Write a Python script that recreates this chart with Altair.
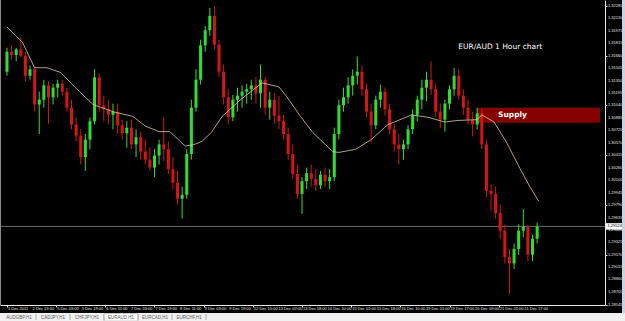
import altair as alt
import pandas as pd

# ---------------- data ----------------
date_labels = ["1 Dec 2011", "2 Dec 13:00", "5 Dec 03:00", "5 Dec 19:00", "6 Dec 11:00",
               "7 Dec 03:00", "7 Dec 19:00", "8 Dec 11:00", "9 Dec 03:00", "9 Dec 19:00",
               "12 Dec 10:00", "13 Dec 02:00", "13 Dec 18:00", "14 Dec 10:00", "15 Dec 02:00",
               "15 Dec 18:00", "16 Dec 10:00", "19 Dec 01:00", "19 Dec 17:00", "20 Dec 09:00",
               "21 Dec 01:00", "21 Dec 17:00"]
date_label_hours = [0, 16, 32, 48, 64, 80, 96, 112, 128, 144, 160, 176, 192, 208, 224,
                    240, 256, 272, 288, 304, 320, 336]

price_ticks = [1.32285, 1.32130, 1.31975, 1.31815, 1.31660, 1.31505, 1.31350, 1.31195,
               1.31040, 1.30885, 1.30725, 1.30570, 1.30415, 1.30260, 1.30100, 1.29945,
               1.29790, 1.29635, 1.29480, 1.29325, 1.29170, 1.29015, 1.28860, 1.28700,
               1.28545]

first_open = 1.3146
highs = [1.3176, 1.3179, 1.3176, 1.3189, 1.3171, 1.3154, 1.3151, 1.3121, 1.3136, 1.3134,
         1.3131, 1.3136, 1.3136, 1.3126, 1.3111, 1.3089, 1.3074, 1.3068, 1.3089, 1.3149,
         1.3144, 1.3116, 1.3111, 1.3106, 1.3106, 1.3086, 1.3084, 1.3086, 1.3074, 1.3071,
         1.3061, 1.3051, 1.3049, 1.3061, 1.3089, 1.3059, 1.3039, 1.3022, 1.3002, 1.3049,
         1.3111, 1.3149, 1.3186, 1.3203, 1.3226, 1.3228, 1.3186, 1.3155, 1.3124, 1.3117,
         1.3126, 1.3129, 1.3131, 1.3136, 1.3139, 1.3155, 1.3139, 1.3121, 1.3119, 1.3116,
         1.3092, 1.3076, 1.3055, 1.3030, 1.3014, 1.3026, 1.3030, 1.3024, 1.3022, 1.3026,
         1.3024, 1.3076, 1.3111, 1.3126, 1.3139, 1.3149, 1.3165, 1.3154, 1.3131, 1.3106,
         1.3116, 1.3130, 1.3126, 1.3106, 1.3081, 1.3068, 1.3061, 1.3079, 1.3099, 1.3116,
         1.3136, 1.3146, 1.3159, 1.3131, 1.3106, 1.3111, 1.3129, 1.3151, 1.3149, 1.3124,
         1.3111, 1.3096, 1.3101, 1.3099, 1.3061, 1.3005, 1.3002, 1.2980, 1.2955, 1.2924,
         1.2931, 1.2955, 1.2974, 1.2954, 1.2942, 1.2957]
lows = [1.3141, 1.3161, 1.3159, 1.3164, 1.3134, 1.3136, 1.3096, 1.3068, 1.3101, 1.3081,
        1.3105, 1.3114, 1.3116, 1.3096, 1.3074, 1.3059, 1.3030, 1.3022, 1.3049, 1.3080,
        1.3096, 1.3084, 1.3080, 1.3074, 1.3068, 1.3061, 1.3051, 1.3049, 1.3039, 1.3036,
        1.3030, 1.3022, 1.3014, 1.3030, 1.3034, 1.3018, 1.2999, 1.2980, 1.2962, 1.2987,
        1.3036, 1.3096, 1.3130, 1.3171, 1.3191, 1.3174, 1.3139, 1.3105, 1.3080, 1.3084,
        1.3096, 1.3101, 1.3106, 1.3111, 1.3106, 1.3101, 1.3092, 1.3086, 1.3081, 1.3074,
        1.3061, 1.3036, 1.3012, 1.2987, 1.2968, 1.2999, 1.3002, 1.2997, 1.2999, 1.3002,
        1.2999, 1.3009, 1.3061, 1.3096, 1.3106, 1.3116, 1.3130, 1.3116, 1.3089, 1.3058,
        1.3074, 1.3101, 1.3091, 1.3068, 1.3046, 1.3030, 1.3036, 1.3049, 1.3068, 1.3084,
        1.3099, 1.3109, 1.3117, 1.3089, 1.3076, 1.3071, 1.3099, 1.3116, 1.3111, 1.3092,
        1.3080, 1.3065, 1.3074, 1.3049, 1.2989, 1.2972, 1.2962, 1.2937, 1.2906, 1.2868,
        1.2899, 1.2917, 1.2939, 1.2909, 1.2909, 1.2931]
closes = [1.3171, 1.3167, 1.3174, 1.3166, 1.3141, 1.3149, 1.3105, 1.3111, 1.3129, 1.3114,
          1.3126, 1.3131, 1.3121, 1.3101, 1.3080, 1.3066, 1.3039, 1.3061, 1.3084, 1.3139,
          1.3104, 1.3099, 1.3092, 1.3096, 1.3079, 1.3069, 1.3076, 1.3055, 1.3064, 1.3046,
          1.3036, 1.3026, 1.3041, 1.3055, 1.3049, 1.3024, 1.3007, 1.2987, 1.2992, 1.3043,
          1.3101, 1.3136, 1.3179, 1.3198, 1.3216, 1.3180, 1.3146, 1.3114, 1.3089, 1.3111,
          1.3116, 1.3121, 1.3124, 1.3129, 1.3119, 1.3136, 1.3101, 1.3111, 1.3091, 1.3084,
          1.3068, 1.3043, 1.3018, 1.2993, 1.3009, 1.3019, 1.3012, 1.3004, 1.3017, 1.3009,
          1.3014, 1.3068, 1.3104, 1.3114, 1.3129, 1.3141, 1.3146, 1.3124, 1.3096, 1.3079,
          1.3111, 1.3121, 1.3099, 1.3074, 1.3055, 1.3049, 1.3055, 1.3074, 1.3092, 1.3111,
          1.3126, 1.3136, 1.3124, 1.3096, 1.3086, 1.3106, 1.3124, 1.3141, 1.3116, 1.3101,
          1.3086, 1.3080, 1.3094, 1.3055, 1.2997, 1.2993, 1.2969, 1.2947, 1.2914, 1.2906,
          1.2924, 1.2947, 1.2952, 1.2917, 1.2937, 1.29524]

ma_hours = [0, 10, 18, 26, 35, 44, 56, 69, 82, 90, 99, 106, 116, 122, 127, 133, 140, 152,
            166, 177, 182, 191, 199, 212, 216, 227, 237, 248, 261, 263, 274, 285, 293, 306,
            309, 317, 325, 333, 340, 346]
ma_values = [1.3202, 1.3183, 1.3151, 1.3151, 1.3145, 1.3127, 1.3105, 1.3096, 1.3090, 1.3078,
             1.3071, 1.3071, 1.3053, 1.3055, 1.3059, 1.3070, 1.3090, 1.3111, 1.3132, 1.3127,
             1.3115, 1.3090, 1.3070, 1.3046, 1.3045, 1.3049, 1.3061, 1.3080, 1.3090, 1.3092,
             1.3089, 1.3083, 1.3085, 1.3086, 1.3092, 1.3083, 1.3058, 1.3028, 1.3003, 1.2984]

supply_zone = {"start": 306, "end": 386, "low": 1.3082, "high": 1.3101}
supply_label = {"hour": 329, "price": 1.30915, "text": "Supply"}
title_note = {"hour": 321, "price": 1.3177, "text": "EUR/AUD 1 Hour chart"}

tabs = ["AUDGBP,H1", "CADJPY,H1", "CHFJPY,H1", "EURAUD,H1", "EURCAD,H1", "EURCHF,H1"]
active_tab = "EURAUD,H1"

# ---------------- frames ----------------
opens = [first_open] + closes[:-1]
df = pd.DataFrame({"hour": [3 * i for i in range(len(closes))],
                   "open": opens, "high": highs, "low": lows, "close": closes})
df["dir"] = ["up" if c >= o else "down" for o, c in zip(opens, closes)]
ma_df = pd.DataFrame({"hour": ma_hours, "ma": ma_values})
last_df = pd.DataFrame({"p": [closes[-1]], "label": [f"{closes[-1]:.5f}"]})
ylab_df = pd.DataFrame({"p": price_ticks, "t": [f"{v:.5f}" for v in price_ticks]})
xlab_df = pd.DataFrame({"hour": date_label_hours, "t": date_labels})

WHITE = "#e6e6e6"
FONT = "Liberation Sans"
x_scale = alt.Scale(domain=[-1.28, 385.92], nice=False, zero=False)
y_scale = alt.Scale(domain=[1.28540, 1.32358], nice=False, zero=False)
color = alt.Color("dir:N", scale=alt.Scale(domain=["up", "down"], range=["#2ee02e", "#d81414"]),
                  legend=None)

x_axis = alt.Axis(values=date_label_hours, labels=False, tickColor=WHITE, tickSize=2,
                  domainColor=WHITE, grid=False, title=None)
y_axis = alt.Axis(orient="right", values=price_ticks, labels=False, tickColor=WHITE, tickSize=2,
                  domainColor=WHITE, grid=False, title=None)

wicks = alt.Chart(df).mark_rule(strokeWidth=1).encode(
    x=alt.X("hour:Q", scale=x_scale, axis=x_axis),
    y=alt.Y("low:Q", scale=y_scale, axis=y_axis),
    y2="high:Q", color=color)
bodies = alt.Chart(df).mark_bar(size=3).encode(
    x="hour:Q", y="open:Q", y2="close:Q", color=color)
ma_line = alt.Chart(ma_df).mark_line(color="#dccb9f", strokeWidth=0.8).encode(
    x="hour:Q", y="ma:Q")
price_rule = alt.Chart(last_df).mark_rule(color="#9a9a9a", strokeWidth=0.7).encode(y="p:Q")

supply_rect = alt.Chart(pd.DataFrame([supply_zone])).mark_rect(color="#850000", clip=True).encode(
    x="start:Q", x2="end:Q", y="low:Q", y2="high:Q")
supply_text = alt.Chart(pd.DataFrame([supply_label])).mark_text(
    color="white", fontSize=7.5, font="DejaVu Sans", fontWeight="bold").encode(
    x="hour:Q", y="price:Q", text="text:N")
title_text = alt.Chart(pd.DataFrame([title_note])).mark_text(
    color="white", fontSize=7.5, font="DejaVu Sans").encode(
    x="hour:Q", y="price:Q", text="text:N")

# axis labels drawn as text so every one of them stays visible
y_labels = alt.Chart(ylab_df).mark_text(
    align="left", baseline="middle", fontSize=4, color=WHITE, font=FONT).encode(
    x=alt.value(608), y="p:Q", text="t:N")
x_labels = alt.Chart(xlab_df).mark_text(
    align="left", baseline="middle", fontSize=4, color=WHITE, font=FONT, dx=1).encode(
    x="hour:Q", y=alt.value(309), text="t:N")

price_box = alt.Chart(last_df).mark_point(
    shape="M-1,-0.38L1,-0.38L1,0.38L-1,0.38Z", size=289, filled=True, opacity=1,
    color="white").encode(x=alt.value(614.5), y="p:Q")
price_box_text = alt.Chart(last_df).mark_text(
    color="black", fontSize=4, align="left", baseline="middle", font=FONT).encode(
    x=alt.value(607.5), y="p:Q", text="label:N")

one = pd.DataFrame({"a": [0]})
left_edge = alt.Chart(one).mark_rule(color="#8a8a8a", strokeWidth=2).encode(
    x=alt.value(0), y=alt.value(0), y2=alt.value(305))
scroll_edge = alt.Chart(one).mark_rule(color="#c9d3de", strokeWidth=3).encode(
    x=alt.value(623.5), y=alt.value(0), y2=alt.value(313))

plot_part = alt.layer(supply_rect, price_rule, wicks, bodies, ma_line, supply_text, title_text,
                      y_labels, x_labels, price_box, price_box_text, left_edge, scroll_edge)

# ---------------- tab bar (below the date labels) ----------------
tab_df = pd.DataFrame({"tab": tabs, "active": [t == active_tab for t in tabs]})
tab_scale = alt.Scale(domain=tabs, range=[2, 206], paddingInner=0, paddingOuter=0)
tab_strip = alt.Chart(one).mark_rect(color="#f0f0f0").encode(
    x=alt.value(0), x2=alt.value(625), y=alt.value(313), y2=alt.value(321))
tab_bg = alt.Chart(tab_df).transform_filter("datum.active").mark_bar(
    color="white", stroke="#9a9a9a", strokeWidth=0.5).encode(
    x=alt.X("tab:N", scale=tab_scale, axis=None), y=alt.value(313.5), y2=alt.value(321))
tab_text = alt.Chart(tab_df).mark_text(fontSize=4.5, color="#5a5a5a", font=FONT,
                                       baseline="middle").encode(
    x=alt.X("tab:N", scale=tab_scale, axis=None), y=alt.value(317.5), text="tab:N")
tab_sep = alt.Chart(tab_df).mark_rule(color="#9a9a9a", strokeWidth=0.7).encode(
    x=alt.X("tab:N", scale=tab_scale, axis=None, bandPosition=1),
    y=alt.value(314), y2=alt.value(320))
tab_part = alt.layer(tab_strip, tab_bg, tab_text, tab_sep)

chart = alt.layer(plot_part, tab_part).resolve_scale(x="independent").properties(
    width=605, height=305,
    autosize=alt.AutoSizeParams(type="none"),
    padding={"left": 0, "top": 0, "right": 20, "bottom": 16},
    background="black",
).configure_view(fill="black", strokeWidth=0)

chart.save("out.html", embed_options={"renderer": "svg", "actions": False})
